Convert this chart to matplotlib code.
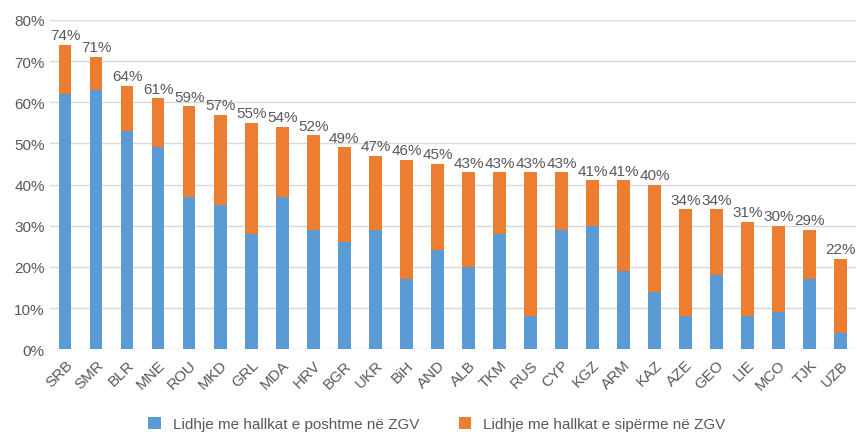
import matplotlib

matplotlib.use("Agg")
import matplotlib.pyplot as plt
from matplotlib.ticker import PercentFormatter

countries = ["SRB", "SMR", "BLR", "MNE", "ROU", "MKD", "GRL", "MDA", "HRV", "BGR", "UKR", "BiH", "AND",
             "ALB", "TKM", "RUS", "CYP", "KGZ", "ARM", "KAZ", "AZE", "GEO", "LIE", "MCO", "TJK", "UZB"]
totals = [74, 71, 64, 61, 59, 57, 55, 54, 52, 49, 47, 46, 45, 43, 43, 43, 43, 41, 41, 40, 34, 34, 31, 30, 29, 22]
lower = [62, 63, 53, 49, 37, 35, 28, 37, 29, 26, 29, 17, 24, 20, 28, 8, 29, 30, 19, 14, 8, 18, 8, 9, 17, 4]
upper = [t - l for t, l in zip(totals, lower)]
series_names = ["Lidhje me hallkat e poshtme në ZGV", "Lidhje me hallkat e sipërme në ZGV"]

plt.rcParams["font.family"] = ["Liberation Sans", "DejaVu Sans"]
grey = "#595959"

fig = plt.figure(figsize=(8.57, 4.35), dpi=100)
ax = fig.add_axes([0.058, 0.195, 0.941, 0.757])

x = range(len(countries))
ax.bar(x, lower, width=0.4, color="#5B9BD5", label=series_names[0], zorder=3)
ax.bar(x, upper, width=0.4, bottom=lower, color="#ED7D31", label=series_names[1], zorder=3)
for i, t in enumerate(totals):
    ax.text(i, t + 0.6, f"{t}%", ha="center", va="bottom", fontsize=11, color=grey)

ax.set_xlim(-0.5, len(countries) - 0.5)
ax.set_ylim(0, 80)
ax.set_yticks(range(0, 81, 10))
ax.yaxis.set_major_formatter(PercentFormatter(decimals=0))
ax.grid(axis="y", color="#D9D9D9", linewidth=1, zorder=0)
for s in ax.spines.values():
    s.set_visible(False)
ax.tick_params(axis="both", length=0, colors=grey, labelsize=11)
ax.tick_params(axis="x", pad=6)
ax.set_xticks(list(x))
ax.set_xticklabels(countries, rotation=45, ha="right", rotation_mode="anchor")

fig.legend(loc="lower center", bbox_to_anchor=(0.51, -0.025), ncol=2, frameon=False,
           fontsize=11, labelcolor=grey, handlelength=0.8, handleheight=0.8, columnspacing=2.6)

fig.savefig("out.png", dpi=100)
